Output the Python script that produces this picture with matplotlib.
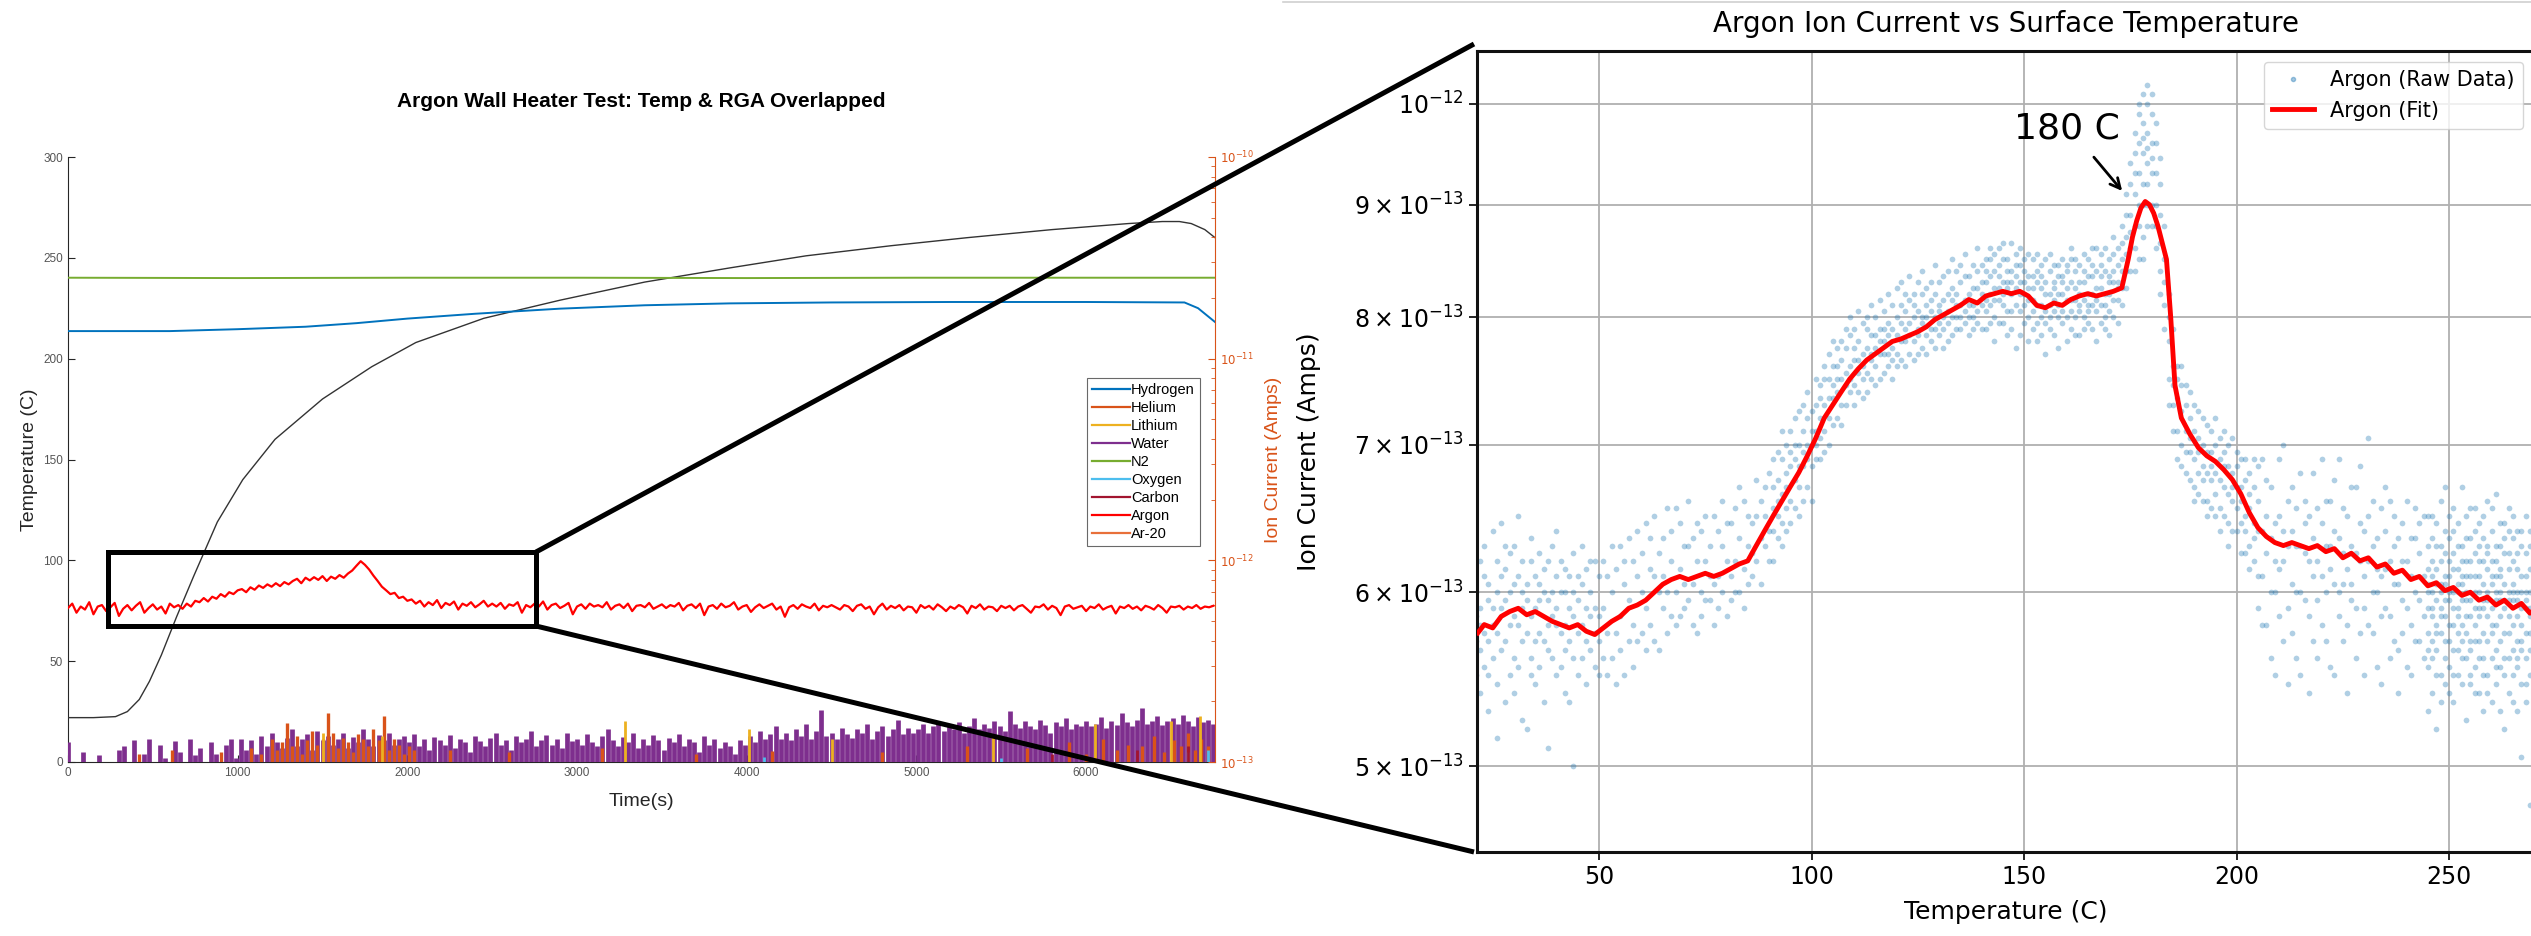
import numpy as np
import matplotlib
matplotlib.use("Agg")
import matplotlib.pyplot as plt
from matplotlib.lines import Line2D
from matplotlib.patches import Rectangle
from matplotlib.ticker import NullLocator

# ---------------- left panel: heater run vs time ----------------
# thermocouple temperature (C) against time (s)
temp_time = [0, 150, 280, 350, 420, 480, 550, 640, 740, 880, 1030, 1220, 1500, 1790, 2050,
             2450, 2900, 3400, 3900, 4350, 4850, 5300, 5800, 6250, 6450, 6550, 6620, 6700, 6760]
temp_vals = [22, 22, 22.5, 25, 31, 40, 53, 72, 92, 119, 140, 160, 180, 196, 208,
             220, 229, 238, 245, 251, 256, 260, 264, 267, 268, 268, 267, 264, 260]

# hydrogen and N2 partial currents (x 1e-11 A)
hyd_time = [0, 600, 1000, 1400, 1700, 2000, 2400, 2900, 3400, 3900, 4500, 5200, 6000, 6580, 6660, 6760]
hyd_vals = [1.37, 1.37, 1.40, 1.44, 1.50, 1.58, 1.67, 1.77, 1.84, 1.88, 1.90, 1.91, 1.91, 1.90, 1.78, 1.52]
n2_time = [0, 1000, 2000, 3000, 4000, 5000, 6000, 6760]
n2_vals = [2.52, 2.51, 2.52, 2.52, 2.51, 2.52, 2.52, 2.52]

# argon current every 25 s (x 1e-13 A)
argon_step = 25
argon_vals = [
    5.8, 6.1, 5.5, 5.9, 5.7, 6.2, 5.4, 5.9, 6.0, 5.6, 5.85, 6.15, 5.3, 5.75, 6.0, 5.65, 5.95, 6.2, 5.5, 5.8,
    6.05, 5.7, 5.9, 5.45, 6.1, 5.85, 6.0, 5.75,
    6.1, 5.9, 6.3, 6.2, 6.5, 6.25, 6.6, 6.45, 6.8, 6.6, 6.95, 6.8, 7.1,
    7.2, 6.95, 7.35, 7.15, 7.5, 7.3, 7.6, 7.4, 7.7, 7.45, 7.8, 7.6,
    7.9, 8.1, 7.7, 8.2, 7.95, 8.25, 8.0, 8.35, 7.9, 8.3, 8.1, 8.45, 8.2, 8.6,
    8.9, 9.4, 9.9, 9.5, 9.0, 8.4,
    7.9, 7.4, 7.1, 6.8, 6.9, 6.5, 6.6, 6.3,
    6.4, 6.1, 6.3, 5.9, 6.2, 6.0, 6.35, 5.8, 6.15, 6.0, 6.25, 5.7, 6.1, 5.95, 6.2, 5.85, 6.05, 6.3, 5.9, 6.1,
    5.9, 6.15, 5.75, 6.05, 5.95, 6.2, 5.5, 6.0, 5.85, 6.1, 5.9, 6.25, 5.7, 6.0, 6.1, 5.8, 5.95, 6.15, 5.4, 5.9,
    6.05, 5.75, 6.1, 5.9, 6.0, 5.85, 6.2, 5.7, 5.95, 6.05, 5.8, 6.1, 5.6, 5.95, 6.0, 5.85, 6.15, 5.75, 5.9, 6.05,
    5.8, 6.0, 5.9, 6.15, 5.65, 5.95, 6.05, 5.8, 6.1, 5.35, 5.9, 6.0, 5.75, 6.1, 5.85, 5.95, 6.2, 5.7, 5.9, 6.0,
    5.55, 5.85, 6.05, 5.8, 5.95, 6.1, 5.7, 5.9, 5.25, 5.85, 6.0, 5.75, 6.05, 5.9, 5.8, 6.1, 5.65, 5.95, 5.85, 6.0,
    5.85, 5.7, 6.0, 5.9, 5.6, 5.95, 6.05, 5.75, 5.9, 5.4, 5.85, 6.1, 5.7, 5.95, 5.8, 6.0, 5.65, 5.9, 5.85, 5.5,
    6.0, 5.8, 5.95, 5.7, 6.05, 5.85, 5.6, 5.9, 5.75, 6.0, 5.85, 5.45, 5.95, 5.8, 6.05, 5.7, 5.9, 5.85, 5.6, 5.95,
    5.8, 5.95, 5.65, 5.9, 6.0, 5.75, 5.5, 5.9, 5.85, 6.05, 5.7, 5.95, 5.8, 5.35, 5.9, 6.0, 5.75, 5.85, 5.95, 5.6,
    5.9, 5.8, 6.05, 5.7, 5.85, 5.95, 5.45, 5.9, 5.8, 6.0, 5.75, 5.9, 5.65, 5.95, 5.85, 5.7, 6.0, 5.8, 5.5, 5.9,
    5.85, 5.95, 5.7, 5.9, 5.8, 6.0, 5.75, 5.9, 5.85, 5.95,
]

# water current every 30 s (x 1e-13 A), 1.0 = at the floor
water_step = 30
water_vals = [
    1.25, 1.0, 1.0, 1.12, 1.0, 1.0, 1.08, 1.0, 1.0, 1.0, 1.15,
    1.2, 1.0, 1.28, 1.0, 1.1, 1.3, 1.0, 1.22, 1.05, 1.0, 1.27, 1.12, 1.0, 1.3, 1.08, 1.18, 1.0,
    1.25, 1.1, 1.0, 1.22, 1.3, 1.05,
    1.3, 1.15, 1.28, 1.1, 1.35, 1.2, 1.4, 1.25, 1.18, 1.32, 1.45, 1.2, 1.3, 1.38, 1.15, 1.42,
    1.28, 1.35, 1.22, 1.3, 1.4, 1.18, 1.33, 1.25, 1.45, 1.3, 1.2, 1.36, 1.28, 1.4, 1.22, 1.3, 1.35,
    1.25, 1.38, 1.2, 1.3, 1.15, 1.33, 1.28, 1.22, 1.36, 1.18, 1.3, 1.25, 1.12, 1.35, 1.27, 1.2,
    1.32, 1.4, 1.22, 1.28, 1.15, 1.35, 1.25, 1.3, 1.42, 1.2, 1.28, 1.36, 1.22, 1.3, 1.18, 1.4, 1.27,
    1.3, 1.22, 1.38, 1.25, 1.2, 1.35, 1.45, 1.28, 1.2, 1.33, 1.25, 1.4, 1.18, 1.3, 1.22, 1.36, 1.28,
    1.15, 1.32, 1.25, 1.38, 1.2, 1.3, 1.26, 1.12, 1.34, 1.22, 1.3, 1.18, 1.25, 1.2, 1.1, 1.28, 1.22,
    1.35, 1.25, 1.42, 1.3, 1.38, 1.5, 1.3, 1.4, 1.28, 1.45, 1.35, 1.55, 1.3, 1.42, 1.82, 1.35, 1.4,
    1.3, 1.48, 1.38, 1.32, 1.45, 1.4, 1.55, 1.3, 1.42, 1.5, 1.35, 1.45, 1.62, 1.38, 1.48, 1.4,
    1.45, 1.55, 1.4, 1.5, 1.6, 1.42, 1.52, 1.45, 1.58, 1.4, 1.5, 1.65, 1.45, 1.55, 1.48, 1.6, 1.5,
    1.42, 1.78, 1.55, 1.48, 1.6, 1.5, 1.45, 1.62, 1.52, 1.4, 1.58, 1.5, 1.65, 1.45, 1.55, 1.5,
    1.6, 1.5, 1.55, 1.68, 1.48, 1.6, 1.52, 1.75, 1.58, 1.5, 1.62, 1.85, 1.55, 1.6, 1.7, 1.52, 1.6,
    1.65, 1.55, 1.72, 1.6, 1.5, 1.68, 1.58, 1.62, 1.55,
]

# bursts of the lighter species (time s, current x 1e-13 A)
helium_time = [420, 610, 900, 1080, 1140,
               1200, 1230, 1260, 1290, 1320, 1350, 1380, 1410, 1440, 1470, 1500, 1530, 1560, 1590, 1620,
               1650, 1680, 1710, 1740, 1770, 1800, 1830, 1860, 1890, 1920, 1950, 1980, 2010, 2040,
               2250, 2600, 3150, 3700, 4150, 4800, 5300, 5650, 5900,
               6000, 6100, 6180, 6250, 6330, 6400, 6460, 6520, 6560, 6600, 6640, 6680, 6720]
helium_vals = [1.1, 1.15, 1.12, 1.18, 1.1,
               1.3, 1.15, 1.25, 1.56, 1.2, 1.35, 1.1, 1.28, 1.42, 1.22, 1.3, 1.75, 1.4, 1.18, 1.32,
               1.25, 1.12, 1.38, 1.3, 1.2, 1.45, 1.28, 1.69, 1.15, 1.3, 1.22, 1.1, 1.2, 1.15,
               1.15, 1.12, 1.18, 1.1, 1.14, 1.12, 1.2, 1.18, 1.25,
               1.1, 1.3, 1.15, 1.22, 1.2, 1.35, 1.12, 1.28, 1.2, 1.4, 1.15, 1.3, 1.2]
lithium_time = [1500, 1850, 3280, 4015, 4500, 5450, 6050, 6500, 6670]
lithium_vals = [1.4, 1.35, 1.6, 1.45, 1.3, 1.35, 1.55, 1.6, 1.7]
oxygen_time = [4100, 5500, 6600, 6720]
oxygen_vals = [1.06, 1.05, 1.12, 1.15]
carbon_time = [5800, 6300, 6600]
carbon_vals = [1.1, 1.15, 1.2]

species = ["Hydrogen", "Helium", "Lithium", "Water", "N2", "Oxygen", "Carbon", "Argon", "Ar-20"]
species_colors = ["#0072BD", "#D95319", "#EDB120", "#7E2F8E", "#77AC30",
                  "#4DBEEE", "#A2142F", "#FF0000", "#E8703A"]

# ---------------- right panel: argon vs surface temperature ----------------
# raw samples grouped by temperature (C) -> currents (x 1e-13 A)
raw_cold = [
    (21, [5.7, 6.0, 5.5, 5.85]), (22, [5.9, 5.4, 6.2, 5.65, 5.8]), (23, [6.1, 5.55, 5.75, 6.3]),
    (24, [5.3, 5.95, 5.7, 6.05, 5.5]), (25, [5.8, 6.4, 5.6, 5.9]), (26, [6.2, 5.45, 5.75, 6.0, 5.15]),
    (27, [6.45, 5.9, 5.65, 6.1]), (28, [5.7, 6.15, 5.35, 5.95, 6.3]), (29, [5.5, 6.0, 5.8, 6.25]),
    (30, [6.3, 5.85, 5.6, 6.05, 5.4]), (31, [5.8, 6.1, 5.55, 6.5]), (32, [6.0, 5.7, 6.2, 5.9, 5.25]),
    (33, [5.2, 5.75, 6.05, 5.95]), (34, [6.2, 5.85, 5.6, 6.35, 5.5]), (35, [5.9, 5.45, 6.1, 5.7]),
    (36, [6.05, 5.75, 6.25, 5.55, 5.95]), (37, [5.7, 6.0, 5.35, 6.15]), (38, [5.1, 5.95, 5.65, 6.2, 5.8]),
    (39, [6.3, 5.85, 5.6, 6.0]), (40, [5.8, 6.1, 5.5, 5.9, 6.4]), (41, [5.55, 6.0, 5.75, 6.2]),
    (42, [6.0, 5.8, 5.4, 6.15, 5.65]), (43, [5.35, 5.9, 6.1, 5.7]), (44, [5.85, 6.25, 5.0, 5.6, 6.0]),
    (45, [6.1, 5.75, 5.5, 5.95]), (46, [5.6, 6.05, 5.8, 6.3]), (47, [5.9, 5.45, 6.15, 5.7]),
    (48, [5.65, 6.0, 5.85, 6.2]), (49, [6.2, 5.55, 5.9, 5.75]), (50, [5.5, 5.85, 6.1, 5.7]),
    (51, [5.9, 5.6, 6.2]), (52, [6.1, 5.75, 5.5]), (53, [5.6, 6.0, 6.3]), (54, [5.75, 6.15, 5.45]),
    (55, [6.3, 5.85, 5.65]), (56, [5.5, 6.05, 6.2]), (57, [5.95, 5.7, 6.35]), (58, [6.2, 5.8, 5.55]),
    (59, [5.7, 6.1, 6.4]), (60, [6.0, 5.75, 6.25]), (61, [6.45, 5.9, 5.65]), (62, [5.8, 6.15, 6.35]),
    (63, [6.1, 5.7, 6.5]), (64, [5.65, 6.0, 6.25]), (65, [6.35, 5.9, 6.1]), (66, [6.0, 5.75, 6.55]),
    (67, [5.85, 6.2, 6.4]), (68, [6.55, 6.0, 5.8]), (69, [6.15, 5.85, 6.45]), (70, [5.9, 6.3, 6.05]),
    (71, [6.3, 5.95, 6.6]), (72, [6.05, 5.8, 6.35]), (73, [5.75, 6.2, 6.45]), (74, [6.4, 6.0, 5.85]),
    (75, [6.2, 6.5, 5.95]), (76, [5.95, 6.3, 6.1]), (77, [6.5, 6.05, 5.8]), (78, [6.1, 6.4, 5.9]),
    (79, [6.3, 6.0, 6.6]), (80, [5.85, 6.2, 6.45]), (81, [6.45, 6.1, 5.95]), (82, [6.2, 6.55, 6.0]),
    (83, [6.0, 6.35, 6.7]), (84, [6.6, 6.15, 5.9]), (85, [6.3, 6.05, 6.5]), (86, [6.1, 6.45, 6.25]),
    (87, [6.5, 6.2, 6.75]), (88, [6.35, 6.6, 6.05]), (89, [6.7, 6.3, 6.5]), (90, [6.4, 6.8, 6.2]),
]
raw_rise = [
    (91, [6.7, 6.4, 6.55, 6.9, 6.2]), (92, [6.5, 6.75, 6.35, 6.95, 6.6]), (93, [6.9, 6.45, 6.65, 7.1, 6.3]),
    (94, [6.8, 6.55, 7.0, 6.7, 6.4]), (95, [6.6, 7.1, 6.85, 6.45, 6.95]), (96, [6.75, 7.0, 6.55, 7.2, 6.9]),
    (97, [6.5, 7.0, 6.85, 7.25, 6.7]), (98, [6.85, 7.1, 6.6, 7.3, 6.95]), (99, [7.2, 6.7, 7.0, 6.9, 7.4]),
    (100, [7.0, 6.6, 7.25, 7.1, 6.85]), (101, [7.3, 6.9, 7.1, 7.5, 7.0]), (102, [6.9, 7.45, 7.2, 7.35, 7.05]),
    (103, [7.1, 7.5, 7.3, 6.95, 7.6]), (104, [7.5, 7.0, 7.35, 7.7, 7.2]), (105, [7.35, 7.6, 7.15, 7.45, 7.8]),
    (106, [7.6, 7.2, 7.4, 7.75, 7.5]), (107, [7.5, 7.3, 7.8, 7.65, 7.15]), (108, [7.75, 7.3, 7.55, 7.9, 7.45]),
    (109, [7.6, 7.4, 7.85, 7.5, 8.0]), (110, [7.45, 7.9, 7.65, 7.3, 7.75]), (111, [7.55, 7.8, 7.4, 8.05, 7.65]),
    (112, [7.7, 7.5, 7.95, 7.6, 7.35]), (113, [7.4, 8.0, 7.75, 7.55, 7.9]), (114, [7.65, 7.85, 7.5, 8.1, 7.7]),
    (115, [7.85, 7.6, 8.0, 7.45, 7.75]), (116, [7.5, 7.9, 7.7, 8.15, 7.8]), (117, [8.05, 7.7, 7.55, 7.9, 7.8]),
    (118, [7.7, 7.95, 7.6, 8.2, 7.85]), (119, [7.9, 7.65, 8.1, 7.75, 7.5]), (120, [7.6, 7.85, 8.0, 8.25, 7.7]),
    (121, [8.1, 7.8, 7.65, 7.95, 8.3]), (122, [7.8, 8.05, 7.6, 7.9, 8.2]), (123, [7.95, 7.7, 8.15, 7.85, 8.35]),
    (124, [8.2, 7.8, 8.0, 7.65, 8.1]), (125, [7.7, 8.05, 7.9, 8.3, 7.85]), (126, [8.0, 7.75, 8.2, 7.95, 8.4]),
    (127, [7.85, 8.1, 7.7, 8.25, 8.0]), (128, [8.3, 7.9, 8.05, 7.8, 8.15]), (129, [7.9, 8.2, 8.0, 8.45, 7.75]),
    (130, [8.05, 7.85, 8.3, 8.1, 7.95]), (131, [7.75, 8.15, 8.0, 8.35, 7.9]), (132, [8.2, 7.95, 8.4, 8.05, 7.8]),
    (133, [8.0, 8.25, 7.85, 8.15, 8.5]), (134, [8.4, 8.0, 8.2, 7.9, 8.1]), (135, [7.9, 8.3, 8.1, 8.45, 8.0]),
    (136, [8.15, 7.95, 8.35, 8.05, 8.55]), (137, [8.35, 8.0, 8.2, 7.85, 8.1]), (138, [8.0, 8.25, 8.45, 8.1, 7.9]),
    (139, [8.25, 8.05, 8.4, 7.95, 8.6]), (140, [8.45, 8.1, 8.3, 7.9, 8.2]),
]
raw_plateau = [
    (141, [8.3, 7.9, 8.15, 8.5, 8.05, 8.4]), (142, [8.5, 8.2, 7.95, 8.35, 8.1, 8.6]),
    (143, [8.0, 8.4, 8.25, 7.8, 8.55, 8.15]), (144, [8.6, 8.15, 8.35, 7.95, 8.25, 8.45]),
    (145, [8.3, 7.95, 8.5, 8.1, 8.65, 8.2]), (146, [8.5, 8.25, 7.85, 8.4, 8.05, 8.3]),
    (147, [8.05, 8.65, 8.2, 8.4, 7.9, 8.3]), (148, [8.35, 8.1, 8.55, 7.75, 8.25, 8.45]),
    (149, [8.45, 7.85, 8.2, 8.6, 8.05, 8.3]), (150, [8.3, 8.2, 7.95, 8.5, 8.1, 8.4]),
    (151, [8.55, 8.0, 8.25, 8.35, 7.8, 8.15]), (152, [8.35, 8.15, 8.5, 7.9, 8.25, 8.05]),
    (153, [7.8, 8.4, 8.1, 8.3, 7.95, 8.55]), (154, [8.1, 8.25, 7.85, 8.45, 8.0, 8.35]),
    (155, [7.95, 8.5, 8.2, 8.05, 8.3, 7.7]), (156, [8.2, 7.9, 8.4, 8.1, 8.55, 8.0]),
    (157, [8.3, 8.05, 7.85, 8.45, 8.15, 8.25]), (158, [8.45, 7.75, 8.2, 8.0, 8.35, 8.1]),
    (159, [8.2, 8.35, 7.95, 8.5, 8.05, 8.3]), (160, [8.0, 8.25, 8.45, 7.8, 8.15, 8.4]),
    (161, [8.5, 7.9, 8.15, 8.3, 8.05, 8.6]), (162, [8.15, 8.4, 7.85, 8.25, 8.5, 8.0]),
    (163, [8.05, 7.85, 8.3, 8.45, 8.2, 8.1]), (164, [8.3, 8.55, 8.0, 8.15, 7.9, 8.4]),
    (165, [8.1, 7.95, 8.35, 8.2, 8.5, 8.05]), (166, [8.35, 8.2, 8.6, 7.9, 8.1, 8.45]),
    (167, [8.6, 7.8, 8.25, 8.4, 8.05, 8.15]), (168, [8.25, 8.45, 8.1, 7.95, 8.35, 8.55]),
    (169, [8.1, 7.9, 8.4, 8.2, 8.6, 8.0]), (170, [8.35, 8.2, 8.5, 8.05, 8.3, 7.85]),
    (171, [8.55, 8.0, 8.3, 8.7, 8.15, 8.4]), (172, [8.3, 8.15, 8.6, 8.45, 7.95, 8.25]),
    (173, [8.5, 8.25, 8.8, 8.1, 8.4, 8.65]), (174, [8.7, 8.4, 8.9, 8.25, 8.55, 9.1]),
]
raw_peak = [
    (175, [8.9, 8.6, 9.2, 8.4, 9.4, 8.75]), (176, [9.1, 8.4, 9.5, 8.8, 9.7, 8.6, 9.3]),
    (177, [9.6, 8.8, 9.0, 9.9, 8.5, 9.3, 10.0]), (178, [9.8, 9.2, 8.7, 10.1, 9.5, 9.0, 8.5, 9.65]),
    (179, [10.2, 9.7, 9.0, 9.4, 10.0, 8.8, 9.55, 9.2]), (180, [9.9, 9.3, 8.8, 9.6, 10.1, 9.0, 9.45]),
    (181, [9.3, 8.6, 9.0, 9.6, 8.8, 9.8]), (182, [8.4, 8.9, 9.2, 8.2, 8.65, 9.45]),
    (183, [8.5, 8.1, 7.9, 8.8, 8.3]),
]
raw_fall = [
    (184, [8.2, 7.5, 7.8, 7.3, 8.0]), (185, [7.9, 7.3, 7.6, 7.1, 7.45]), (186, [7.6, 7.1, 7.35, 6.9, 7.5]),
    (187, [7.45, 7.0, 7.25, 6.85, 7.6]), (188, [7.3, 6.8, 7.1, 7.45, 6.95]), (189, [7.2, 6.95, 6.75, 7.4, 7.05]),
    (190, [7.1, 6.7, 6.9, 7.3, 6.6]), (191, [7.05, 6.8, 7.25, 6.65, 6.95]), (192, [6.85, 7.2, 6.6, 7.0, 6.75]),
    (193, [6.6, 6.95, 7.15, 6.8, 6.5]), (194, [6.95, 6.75, 7.1, 6.55, 6.85]), (195, [7.0, 6.65, 6.8, 7.2, 6.5]),
    (196, [6.55, 6.9, 6.75, 7.05, 6.4]), (197, [6.7, 6.95, 6.5, 6.85, 7.1]), (198, [6.45, 6.85, 6.65, 7.0, 6.3]),
    (199, [6.6, 6.8, 6.4, 7.05, 6.7]), (200, [6.95, 6.4, 6.7, 6.55, 6.85]), (201, [6.7, 6.45, 6.9, 6.25, 6.6]),
    (202, [6.5, 6.75, 6.25, 6.9, 6.4]), (203, [6.8, 6.3, 6.55, 6.15, 6.65]), (204, [6.45, 6.7, 6.2, 6.9, 6.35]),
    (205, [6.6, 6.1, 6.4, 6.85, 5.9]),
]
raw_warm = [
    (206, [6.9, 6.1, 6.4, 5.8]), (207, [5.8, 6.5, 6.25, 6.75]), (208, [6.7, 6.0, 6.35, 5.6]),
    (209, [6.0, 5.5, 6.45, 6.2]), (210, [6.5, 6.15, 5.85, 6.9]), (211, [6.2, 7.0, 5.7, 6.4]),
    (212, [5.9, 6.6, 6.3, 5.45]), (213, [6.4, 6.7, 6.05, 5.75]), (214, [5.6, 6.3, 6.55, 6.0]),
    (215, [6.3, 6.0, 6.8, 5.5]), (216, [6.6, 5.95, 6.25, 6.45]), (217, [5.4, 6.2, 6.5, 5.85]),
    (218, [6.8, 6.1, 5.7, 6.35]), (219, [5.95, 6.55, 6.2, 5.6]), (220, [6.45, 6.1, 5.8, 6.9]),
    (221, [5.7, 6.3, 6.6, 6.0]), (222, [6.6, 6.3, 5.55, 6.15]), (223, [5.5, 6.05, 6.4, 6.75]),
    (224, [6.0, 6.9, 5.85, 6.35]), (225, [6.25, 5.7, 6.55, 6.05]), (226, [5.8, 6.5, 6.15, 5.4]),
    (227, [6.05, 6.7, 5.95, 6.3]), (228, [5.6, 6.7, 6.25, 5.9]), (229, [6.2, 5.75, 6.45, 6.85]),
    (230, [5.9, 6.4, 6.1, 5.5]), (231, [7.05, 6.2, 5.8, 6.5]), (232, [5.75, 6.3, 6.0, 6.6]),
    (233, [6.0, 5.55, 6.35, 6.15]), (234, [5.45, 6.55, 6.1, 5.85]), (235, [6.15, 5.9, 6.4, 6.7]),
    (236, [5.85, 6.6, 6.2, 5.6]), (237, [6.3, 5.7, 6.05, 6.5]), (238, [5.65, 6.05, 6.35, 5.4]),
    (239, [6.45, 5.95, 6.2, 5.75]), (240, [5.9, 6.2, 5.55, 6.6]), (241, [5.5, 6.1, 6.35, 5.8]),
    (242, [6.35, 6.0, 5.7, 6.55]), (243, [5.7, 6.25, 5.95, 6.45]), (244, [6.5, 6.1, 5.6, 5.85]),
]
raw_hot = [
    (245, [5.3, 6.0, 6.3, 5.75, 5.55, 6.15, 5.9, 6.5, 5.65, 6.05]),
    (246, [5.9, 6.5, 5.4, 6.2, 5.7, 6.0, 5.85, 6.35, 5.6, 6.1]),
    (247, [6.3, 5.8, 5.2, 6.05, 5.65, 6.45, 5.95, 5.5, 6.15, 5.75]),
    (248, [5.5, 6.2, 5.9, 6.6, 5.75, 6.05, 5.35, 6.3, 5.85, 6.0]),
    (249, [5.6, 6.05, 6.7, 5.85, 6.25, 5.45, 5.95, 6.4, 5.7, 6.1]),
    (250, [6.1, 5.4, 5.95, 6.5, 5.7, 6.2, 5.55, 6.0, 5.8, 6.35]),
    (251, [5.8, 6.25, 5.35, 6.0, 6.55, 5.65, 5.9, 6.15, 5.5, 6.4]),
    (252, [5.65, 6.15, 5.9, 6.45, 5.5, 6.05, 5.75, 6.3, 5.85, 6.0]),
    (253, [6.05, 5.8, 6.7, 5.6, 6.3, 5.95, 5.45, 6.2, 5.7, 6.1]),
    (254, [5.95, 6.2, 5.25, 6.5, 5.75, 6.0, 5.6, 6.35, 5.85, 6.1]),
    (255, [5.85, 6.1, 5.45, 6.35, 5.65, 5.95, 6.55, 5.7, 6.2, 5.5]),
    (256, [6.0, 5.55, 6.55, 5.8, 6.25, 5.4, 5.9, 6.4, 5.7, 6.1]),
    (257, [6.1, 5.4, 5.9, 6.45, 5.7, 6.2, 5.6, 6.0, 5.85, 6.3]),
    (258, [5.95, 6.2, 5.3, 5.6, 6.05, 6.5, 5.75, 5.9, 6.35, 5.5]),
    (259, [6.3, 5.85, 6.6, 5.5, 6.0, 5.7, 6.15, 5.4, 5.95, 6.25]),
    (260, [5.75, 6.2, 5.35, 6.4, 5.9, 5.6, 6.05, 6.55, 5.8, 6.1]),
    (261, [5.65, 6.1, 6.65, 5.8, 5.45, 6.3, 5.95, 5.55, 6.0, 6.2]),
    (262, [6.0, 6.3, 5.55, 5.7, 6.15, 5.85, 6.45, 5.3, 5.95, 6.1]),
    (263, [5.9, 5.2, 6.45, 6.05, 5.6, 6.25, 5.75, 5.95, 6.35, 5.5]),
    (264, [5.85, 6.25, 5.4, 6.55, 5.75, 6.0, 5.6, 6.15, 5.95, 6.4]),
    (265, [5.95, 5.5, 6.2, 5.65, 6.35, 5.8, 6.05, 5.35, 6.0, 6.5]),
    (266, [6.0, 5.3, 5.85, 6.15, 5.55, 6.4, 5.7, 5.95, 6.25, 5.6]),
    (267, [5.8, 6.4, 5.05, 5.7, 6.1, 5.9, 5.45, 6.3, 5.65, 6.0]),
    (268, [5.9, 5.45, 6.25, 6.0, 5.6, 6.5, 5.75, 6.1, 5.35, 5.95]),
    (269, [5.75, 6.3, 4.8, 5.9, 5.5, 6.15, 5.65, 6.0, 6.4, 5.85]),
    (270, [6.05, 5.65, 5.9, 6.2, 5.5, 5.8, 6.35, 5.7, 6.0, 5.95]),
]

# rolling fit (temperature C, current x 1e-13 A)
fit_points = [(21.5, 5.75), (23, 5.8), (25, 5.78), (27, 5.85), (29, 5.88), (31, 5.9), (33, 5.86), (35, 5.88),
              (37, 5.85), (39, 5.82), (41, 5.8), (43, 5.78), (45, 5.8), (47, 5.76), (49, 5.74), (51, 5.78),
              (53, 5.82), (55, 5.85), (57, 5.9), (59, 5.92), (61, 5.95), (63, 6.0), (65, 6.05), (67, 6.08),
              (69, 6.1), (71, 6.08), (73, 6.1), (75, 6.12), (77, 6.1), (79, 6.12), (81, 6.15), (83, 6.18),
              (85, 6.2), (87, 6.3), (89, 6.4), (91, 6.5), (93, 6.6), (95, 6.7), (97, 6.8), (99, 6.92),
              (101, 7.05), (103, 7.2), (105, 7.3), (107, 7.4), (109, 7.5), (111, 7.58), (113, 7.65),
              (115, 7.7), (117, 7.75), (119, 7.8), (121, 7.82), (123, 7.85), (125, 7.88), (127, 7.92),
              (129, 7.98), (131, 8.02), (133, 8.06), (135, 8.1), (137, 8.15), (139, 8.12), (141, 8.18),
              (143, 8.2), (145, 8.22), (147, 8.2), (149, 8.22), (151, 8.18), (153, 8.1), (155, 8.08),
              (157, 8.12), (159, 8.1), (161, 8.15), (163, 8.18), (165, 8.2), (167, 8.18), (169, 8.2),
              (171, 8.22), (173, 8.25), (174.5, 8.5), (175.5, 8.7), (176.5, 8.85), (177.5, 8.97),
              (178.5, 9.03), (179.5, 9.0), (180.5, 8.92), (181.5, 8.8), (182.5, 8.65), (183.5, 8.5),
              (184.5, 8.0), (185.5, 7.45), (187, 7.2), (189, 7.08), (191, 6.98), (193, 6.92), (195, 6.88),
              (197, 6.82), (199, 6.75), (201, 6.65), (203, 6.52), (205, 6.42), (207, 6.36), (209, 6.32),
              (211, 6.3), (213, 6.32), (215, 6.3), (217, 6.28), (219, 6.3), (221, 6.26), (223, 6.28),
              (225, 6.22), (227, 6.25), (229, 6.2), (231, 6.22), (233, 6.16), (235, 6.18), (237, 6.12),
              (239, 6.14), (241, 6.08), (243, 6.1), (245, 6.04), (247, 6.06), (249, 6.01), (251, 6.03),
              (253, 5.98), (255, 6.0), (257, 5.95), (259, 5.97), (261, 5.92), (263, 5.95), (265, 5.9),
              (267, 5.93), (269, 5.87), (270.5, 5.9)]

amp_ticks = [5e-13, 6e-13, 7e-13, 8e-13, 9e-13, 1e-12]
amp_labels = [r"$5\times10^{-13}$", r"$6\times10^{-13}$", r"$7\times10^{-13}$",
              r"$8\times10^{-13}$", r"$9\times10^{-13}$", r"$10^{-12}$"]
temp_ticks = [50, 100, 150, 200, 250]

W, H = 2531, 936


def fig_x(px):
    return px / W


def fig_y(py):
    return 1 - py / H


def flatten(rows):
    temps = [t for t, vals in rows for _ in vals]
    amps = [v for _, vals in rows for v in vals]
    return temps, amps


fig = plt.figure(figsize=(W / 100, H / 100), dpi=100)
fig.patch.set_facecolor("white")

matlab_font = "Liberation Sans"
ax_col = "#262626"
rga_col = "#D95319"

# ---- left panel ----
ax = fig.add_axes([fig_x(68), fig_y(762), (1215 - 68) / W, (762 - 157) / H])
ax.plot(temp_time, temp_vals, color="#333333", lw=1.0, zorder=3)
ax.set_xlim(0, 6760)
ax.set_ylim(0, 300)
ax.set_xticks(range(0, 7000, 1000))
ax.set_yticks(range(0, 301, 50))
ax.tick_params(direction="in", length=5, width=0.8, colors=ax_col, labelsize=8.5, labelcolor="#555555")
for lab in ax.get_xticklabels() + ax.get_yticklabels():
    lab.set_family(matlab_font)
ax.spines["top"].set_visible(False)
ax.spines["right"].set_visible(False)
ax.spines["left"].set_color(ax_col)
ax.spines["bottom"].set_color(ax_col)
ax.set_xlabel("Time(s)", family=matlab_font, fontsize=14, color=ax_col, labelpad=10)
ax.set_ylabel("Temperature (C)", family=matlab_font, fontsize=14, color=ax_col, labelpad=4)
ax.set_title("Argon Wall Heater Test: Temp & RGA Overlapped", family=matlab_font,
             fontsize=15, fontweight="bold", pad=36)

ax2 = ax.twinx()
ax2.set_yscale("log")
ax2.set_ylim(1e-13, 1e-10)
ax2.set_yticks([1e-13, 1e-12, 1e-11, 1e-10])
floor = 0.9e-13
water_time = np.arange(len(water_vals)) * water_step
ax2.vlines(water_time, floor, np.array(water_vals) * 1e-13, color=species_colors[3], lw=3.4, zorder=2)
ax2.vlines(helium_time, floor, np.array(helium_vals) * 1e-13, color=species_colors[1], lw=2.4, zorder=2.5)
ax2.vlines(lithium_time, floor, np.array(lithium_vals) * 1e-13, color=species_colors[2], lw=2.0, zorder=2.5)
ax2.vlines(oxygen_time, floor, np.array(oxygen_vals) * 1e-13, color=species_colors[5], lw=2.0, zorder=2.5)
ax2.vlines(carbon_time, floor, np.array(carbon_vals) * 1e-13, color=species_colors[6], lw=2.0, zorder=2.5)
argon_time = np.arange(len(argon_vals)) * argon_step
ax2.plot(argon_time, np.array(argon_vals) * 1e-13, color=species_colors[7], lw=1.6, zorder=4)
ax2.plot(hyd_time, np.array(hyd_vals) * 1e-11, color=species_colors[0], lw=1.4, zorder=4)
ax2.plot(n2_time, np.array(n2_vals) * 1e-11, color=species_colors[4], lw=1.4, zorder=4)
ax2.tick_params(which="both", direction="in", colors=rga_col, labelsize=8.5)
ax2.tick_params(which="major", length=5)
ax2.tick_params(which="minor", length=3)
for side in ["top", "left", "bottom"]:
    ax2.spines[side].set_visible(False)
ax2.spines["right"].set_color(rga_col)
ax2.set_ylabel("Ion Current (Amps)", family=matlab_font, fontsize=14, color=rga_col, labelpad=8)

handles = [Line2D([], [], color=c, lw=1.6) for c in species_colors]
leg = ax2.legend(handles, species, loc="upper right", bbox_to_anchor=(0.987, 0.6347),
                 borderaxespad=0, prop={"family": matlab_font, "size": 10.5}, handlelength=2.6,
                 handletextpad=0.1, labelspacing=0.27, borderpad=0.35, fancybox=False)
leg.get_frame().set_edgecolor("#444444")
leg.get_frame().set_linewidth(0.8)

# ---- right panel ----
axr = fig.add_axes([fig_x(1477), fig_y(852), (2535 - 1477) / W, (852 - 51) / H])
axr.set_yscale("log")
for group in [raw_cold, raw_rise, raw_plateau, raw_peak, raw_fall, raw_warm, raw_hot]:
    t, a = flatten(group)
    axr.scatter(t, np.array(a) * 1e-13, s=17, color="#1f77b4", alpha=0.35, lw=0, zorder=2)
fit_t, fit_a = zip(*fit_points)
axr.plot(fit_t, np.array(fit_a) * 1e-13, color="red", lw=3.5, zorder=3)
axr.set_xlim(21.3, 270.2)
axr.set_ylim(4.572e-13, 1.057e-12)
axr.set_yticks(amp_ticks, amp_labels)
axr.yaxis.set_minor_locator(NullLocator())
axr.set_xticks(temp_ticks)
axr.grid(True, color="#b0b0b0", lw=1.3)
axr.set_axisbelow(True)
axr.tick_params(labelsize=17, length=6, width=1.2)
for sp in axr.spines.values():
    sp.set_linewidth(2.2)
    sp.set_color("#111111")
axr.set_xlabel("Temperature (C)", fontsize=18, labelpad=8)
axr.set_ylabel("Ion Current (Amps)", fontsize=18, labelpad=24)
axr.set_title("Argon Ion Current vs Surface Temperature", fontsize=20, pad=14)

raw_handle = Line2D([], [], ls="", marker="o", ms=3, color="#1f77b4", alpha=0.4)
fit_handle = Line2D([], [], color="red", lw=3.5)
axr.legend([raw_handle, fit_handle], ["Argon (Raw Data)", "Argon (Fit)"], loc="upper right",
           bbox_to_anchor=(0.9887, 0.9863), borderaxespad=0, fontsize=15)

axr.text(160, 9.75e-13, "180 C", fontsize=26, ha="center", va="center")
axr.annotate("", xy=(173.5, 9.11e-13), xytext=(166, 9.48e-13),
             arrowprops=dict(arrowstyle="->", color="black", lw=2, mutation_scale=18))

# ---- zoom callout linking the two panels ----
line_kw = dict(transform=fig.transFigure, color="black", lw=3.6, solid_capstyle="butt")
fig.add_artist(Rectangle((fig_x(108), fig_y(626)), (536 - 108) / W, (626 - 552) / H,
                         transform=fig.transFigure, fill=False, ec="black", lw=3.6))
fig.add_artist(Line2D([fig_x(536), fig_x(1474)], [fig_y(552), fig_y(44)], **line_kw))
fig.add_artist(Line2D([fig_x(536), fig_x(1474)], [fig_y(626), fig_y(852)], **line_kw))
fig.add_artist(Line2D([fig_x(1283), 1], [fig_y(1.5), fig_y(1.5)], transform=fig.transFigure,
                      color="#d0d0d0", lw=1.2))

fig.savefig("out.png", dpi=100, facecolor="white")
